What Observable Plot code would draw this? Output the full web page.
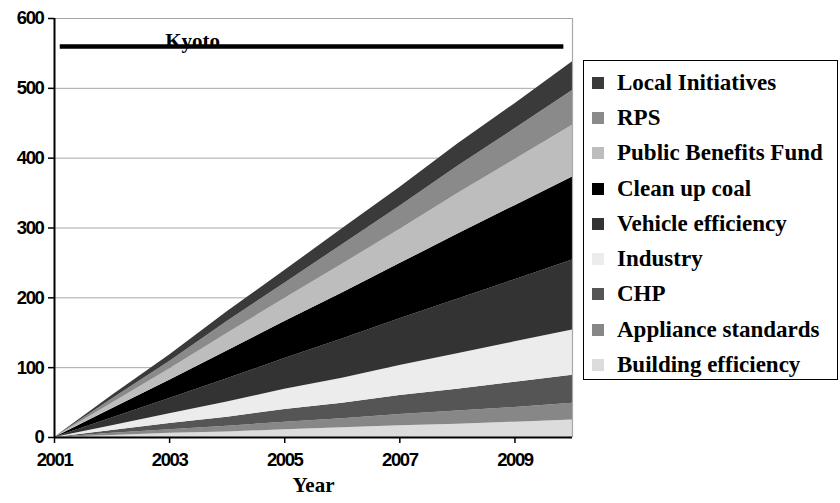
<!DOCTYPE html>
<html>
<head>
<meta charset="utf-8">
<script src="https://cdn.jsdelivr.net/npm/d3@7"></script>
<script src="https://cdn.jsdelivr.net/npm/@observablehq/plot@0.6"></script>
<style>
  html, body { margin: 0; padding: 0; background: #fff; }
  #wrap { position: relative; width: 840px; height: 503px; }
  #legend {
    position: absolute; left: 583px; top: 60px; width: 255px; height: 320px;
    border: 1.5px solid #000; padding-top: 4px; box-sizing: border-box;
    font-family: "Liberation Serif", "Times New Roman", serif; font-weight: bold; font-size: 23px;
  }
  .item { height: 35.3px; display: flex; align-items: center; white-space: nowrap; }
  .sw { width: 12px; height: 12px; margin-left: 8px; margin-right: 13px; flex: none; }
  g[aria-label="x-axis tick label"] text, g[aria-label="y-axis tick label"] text { letter-spacing: -1.4px; }
</style>
</head>
<body>
<div id="wrap"></div>
<script>
const years = [2001, 2002, 2003, 2004, 2005, 2006, 2007, 2008, 2009, 2010];
// stacked from bottom to top
const seriesNames = ["Building efficiency", "Appliance standards", "CHP", "Industry", "Vehicle efficiency", "Clean up coal", "Public Benefits Fund", "RPS", "Local Initiatives"];
const buildingEfficiency = [0, 3, 6, 8, 11, 14, 17, 19, 22, 25];
const applianceStandards = [0, 3, 5, 8, 11, 13, 16, 19, 21, 24];
const chp = [0, 4, 9, 13, 18, 22, 27, 31, 36, 40];
const industry = [0, 7, 14, 22, 29, 36, 43, 51, 58, 65];
const vehicleEfficiency = [0, 11, 22, 33, 44, 56, 67, 78, 89, 100];
const cleanUpCoal = [0, 13, 26, 40, 53, 66, 79, 93, 106, 119];
const publicBenefitsFund = [0, 8, 16, 25, 33, 41, 49, 58, 66, 74];
const rps = [0, 6, 11, 17, 22, 28, 33, 39, 44, 50];
const localInitiatives = [0, 5, 9, 14, 18, 23, 27, 32, 36, 41];
const seriesValues = [buildingEfficiency, applianceStandards, chp, industry, vehicleEfficiency, cleanUpCoal, publicBenefitsFund, rps, localInitiatives];
const seriesColors = ["#dcdcdc", "#878787", "#555555", "#ececec", "#333333", "#000000", "#bdbdbd", "#8a8a8a", "#3a3a3a"];
const kyotoValue = 560;
const kyotoStart = 2001.1;
const kyotoEnd = 2009.85;
const kyotoLabelX = 2003.4;
const xTicks = [2001, 2003, 2005, 2007, 2009];
const yTicks = [0, 100, 200, 300, 400, 500, 600];

const rows = [];
seriesNames.forEach((name, i) => {
  years.forEach((yr, j) => rows.push({ series: name, year: yr, value: seriesValues[i][j] }));
});

const tickFont = { fontFamily: "'Liberation Sans Narrow', 'Liberation Sans', sans-serif", fontWeight: "bold", fontSize: 18.5 };

const chart = Plot.plot({
  width: 840,
  height: 503,
  marginLeft: 54,
  marginRight: 268,
  marginTop: 18,
  marginBottom: 66,
  style: { background: "transparent", overflow: "visible" },
  x: { domain: [2001, 2010] },
  y: { domain: [0, 600] },
  color: { domain: seriesNames, range: seriesColors },
  marks: [
    Plot.gridY(yTicks, { stroke: "#a8a8a8", strokeOpacity: 1, strokeWidth: 1 }),
    Plot.areaY(rows, { x: "year", y: "value", fill: "series", order: seriesNames }),
    Plot.ruleX([2010], { stroke: "#a8a8a8", strokeWidth: 1.2 }),
    Plot.ruleY([0], { stroke: "#000", strokeWidth: 2 }),
    Plot.ruleX([2001], { stroke: "#000", strokeWidth: 2 }),
    Plot.axisY({ ticks: yTicks, tickSize: 6, tickPadding: 5, tickFormat: d => String(d), label: null, stroke: "#000", strokeWidth: 1.5, ...tickFont, fill: "#000", stroke: "#000" }),
    Plot.axisX({ ticks: xTicks, tickSize: 6, tickPadding: 9, tickFormat: d => String(d), label: null, stroke: "#000", strokeWidth: 1.5, ...tickFont, fill: "#000" }),
    Plot.ruleY([kyotoValue], { x1: kyotoStart, x2: kyotoEnd, stroke: "#000", strokeWidth: 4.5 }),
    Plot.text(["Kyoto"], { x: kyotoLabelX, y: kyotoValue, dy: -5, text: d => d, fontFamily: "'Liberation Serif', serif", fontWeight: "bold", fontSize: 21, fill: "#000" }),
    Plot.text(["Year"], { frameAnchor: "bottom", dy: 54, text: d => d, fontFamily: "'Liberation Serif', serif", fontWeight: "bold", fontSize: 21, fill: "#000" })
  ]
});

const wrap = document.getElementById("wrap");
wrap.appendChild(chart);

const legend = document.createElement("div");
legend.id = "legend";
for (let i = seriesNames.length - 1; i >= 0; i--) {
  const item = document.createElement("div");
  item.className = "item";
  const sw = document.createElement("span");
  sw.className = "sw";
  sw.style.background = seriesColors[i];
  const t = document.createElement("span");
  t.textContent = seriesNames[i];
  item.appendChild(sw);
  item.appendChild(t);
  legend.appendChild(item);
}
wrap.appendChild(legend);
</script>
</body>
</html>
